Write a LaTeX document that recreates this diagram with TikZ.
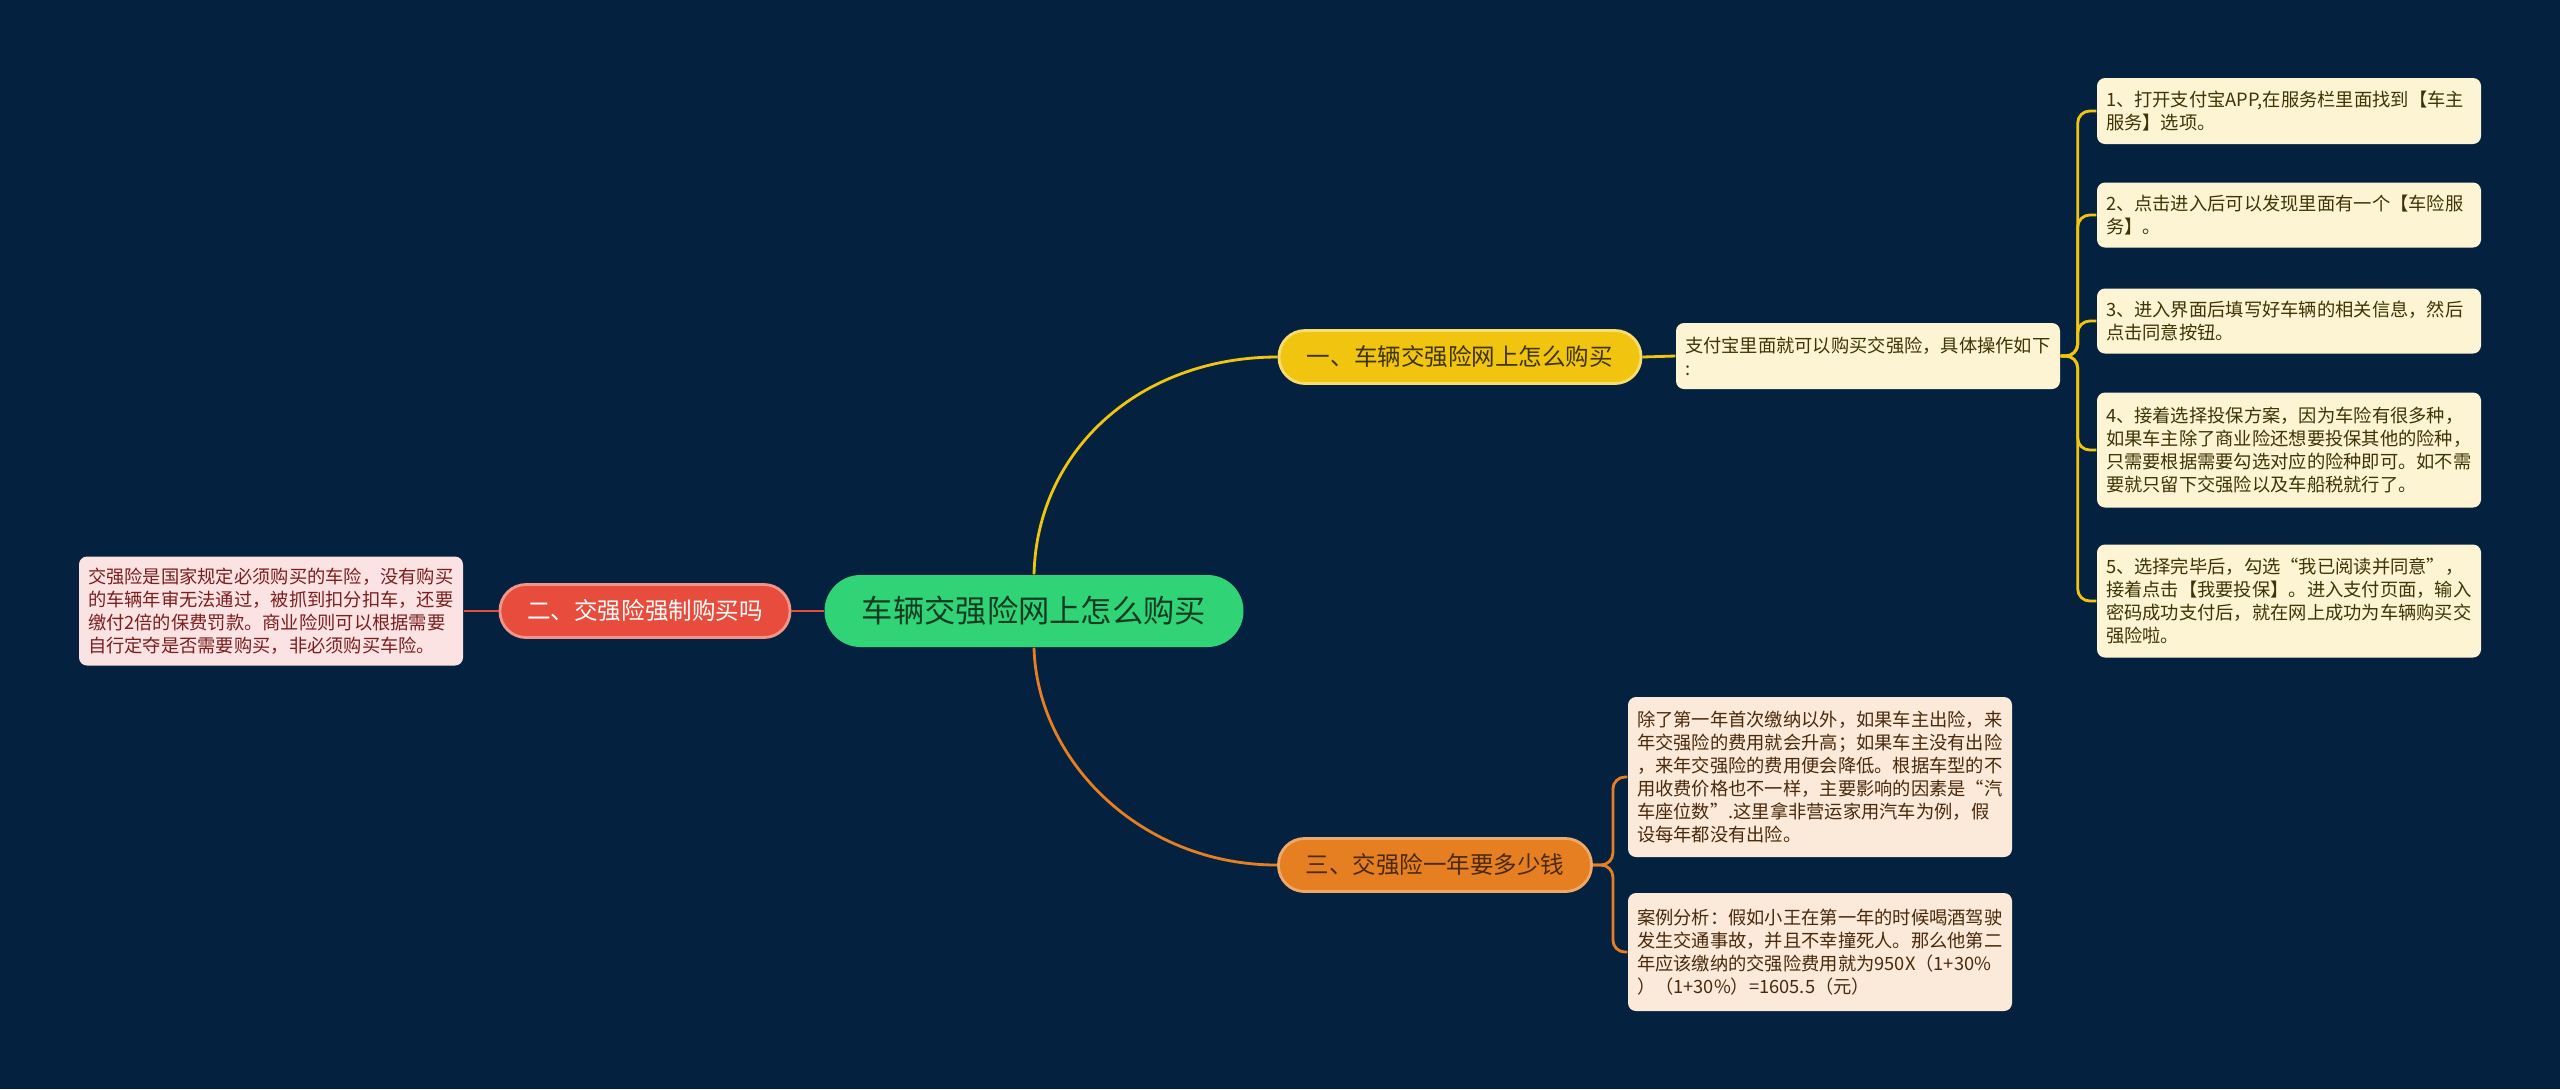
\documentclass[tikz,border=0pt]{standalone}
\usepackage{fontspec}
\setmainfont{Noto Sans CJK SC}
\usetikzlibrary{shapes}
\definecolor{bgnavy}{HTML}{04223F}
\definecolor{rootgreen}{HTML}{31D377}
\definecolor{rootink}{HTML}{123C22}
\definecolor{ylw}{HTML}{F1C40F}
\definecolor{ylwedge}{HTML}{F7DC6F}
\definecolor{ylwleaf}{HTML}{FDF4D3}
\definecolor{ylwink}{HTML}{3E3405}
\definecolor{rd}{HTML}{E74C3C}
\definecolor{rdedge}{HTML}{F1948A}
\definecolor{rdleaf}{HTML}{FCE3E3}
\definecolor{rdink}{HTML}{7A1E1E}
\definecolor{org}{HTML}{E67E22}
\definecolor{orgedge}{HTML}{F0A868}
\definecolor{orgleaf}{HTML}{FBE9DA}
\definecolor{orgink}{HTML}{4A2A0C}
\tikzstyle{rootnode}=[rectangle,rounded corners=0.36cm,fill=rootgreen,text=rootink,minimum width=4.19cm,minimum height=0.72cm,font=\fontsize{8.9}{11}\selectfont]
\tikzstyle{topic}=[rectangle,rounded corners=0.26cm,minimum height=0.53cm,line width=0.8pt,font=\fontsize{6.7}{8}\selectfont]
\tikzstyle{leafbox}=[rectangle,rounded corners=0.08cm,text width=3.66cm,align=left,inner sep=0.09cm,font=\fontsize{5.2}{6.6}\selectfont]
\tikzstyle{link}=[line width=0.8pt]

\begin{document}
\begin{tikzpicture}[x=0.1mm,y=-0.1mm]
\path[use as bounding box,fill=bgnavy] (0,0) rectangle (2560,1089);
\node[rootnode] (root) at (1034,611) {车辆交强险网上怎么购买};
\node[topic,fill=ylw,draw=ylwedge,text=ylwink,minimum width=3.62cm] (buy) at (1460,357) {一、车辆交强险网上怎么购买};
\node[topic,fill=rd,draw=rdedge,text=white,minimum width=2.9cm] (must) at (645,611) {二、交强险强制购买吗};
\node[topic,fill=org,draw=orgedge,text=orgink,minimum width=3.13cm] (cost) at (1435,865) {三、交强险一年要多少钱};
% yellow branch
\node[leafbox,fill=ylwleaf,text=ylwink,minimum height=0.66cm] (alipay) at (1868,356) {支付宝里面就可以购买交强险，具体操作如下\\:};
\node[leafbox,fill=ylwleaf,text=ylwink,minimum height=0.66cm] (s1) at (2289,111) {1、打开支付宝APP,在服务栏里面找到【车主\\服务】选项。};
\node[leafbox,fill=ylwleaf,text=ylwink,minimum height=0.65cm] (s2) at (2289,215) {2、点击进入后可以发现里面有一个【车险服\\务】。};
\node[leafbox,fill=ylwleaf,text=ylwink,minimum height=0.65cm] (s3) at (2289,321) {3、进入界面后填写好车辆的相关信息，然后\\点击同意按钮。};
\node[leafbox,fill=ylwleaf,text=ylwink,minimum height=1.15cm] (s4) at (2289,450) {4、接着选择投保方案，因为车险有很多种，\\如果车主除了商业险还想要投保其他的险种，\\只需要根据需要勾选对应的险种即可。如不需\\要就只留下交强险以及车船税就行了。};
\node[leafbox,fill=ylwleaf,text=ylwink,minimum height=1.13cm] (s5) at (2289,601) {5、选择完毕后，勾选“我已阅读并同意”，\\接着点击【我要投保】。进入支付页面，输入\\密码成功支付后，就在网上成功为车辆购买交\\强险啦。};
% red branch
\node[leafbox,fill=rdleaf,text=rdink,minimum height=1.09cm] (law) at (271,611) {交强险是国家规定必须购买的车险，没有购买\\的车辆年审无法通过，被抓到扣分扣车，还要\\缴付2倍的保费罚款。商业险则可以根据需要\\自行定夺是否需要购买，非必须购买车险。};
% orange branch
\node[leafbox,fill=orgleaf,text=orgink,minimum height=1.6cm] (rule) at (1820,777) {除了第一年首次缴纳以外，如果车主出险，来\\年交强险的费用就会升高；如果车主没有出险\\，来年交强险的费用便会降低。根据车型的不\\用收费价格也不一样，主要影响的因素是“汽\\车座位数”.这里拿非营运家用汽车为例，假\\设每年都没有出险。};
\node[leafbox,fill=orgleaf,text=orgink,minimum height=1.18cm] (case) at (1820,952) {案例分析：假如小王在第一年的时候喝酒驾驶\\发生交通事故，并且不幸撞死人。那么他第二\\年应该缴纳的交强险费用就为950X（1+30\%\\）（1+30\%）=1605.5（元）};

\draw[link,ylw] (root.north) .. controls (1037,450) and (1140,357) .. (buy.west);
\draw[link,org] (root.south) .. controls (1037,760) and (1140,865) .. (cost.west);
\draw[link,rd] (root.west) -- (must.east);
\draw[link,rd] (must.west) -- (law.east);
\draw[link,ylw] (buy.east) -- (alipay.west);
\foreach \s in {s1,s2,s3,s4,s5}
  \draw[link,ylw,rounded corners=1.2mm] (alipay.east) -- ++(17,0) |- (\s.west);
\foreach \s in {rule,case}
  \draw[link,org,rounded corners=1.2mm] (cost.east) -- ++(20,0) |- (\s.west);
\end{tikzpicture}
\end{document}
